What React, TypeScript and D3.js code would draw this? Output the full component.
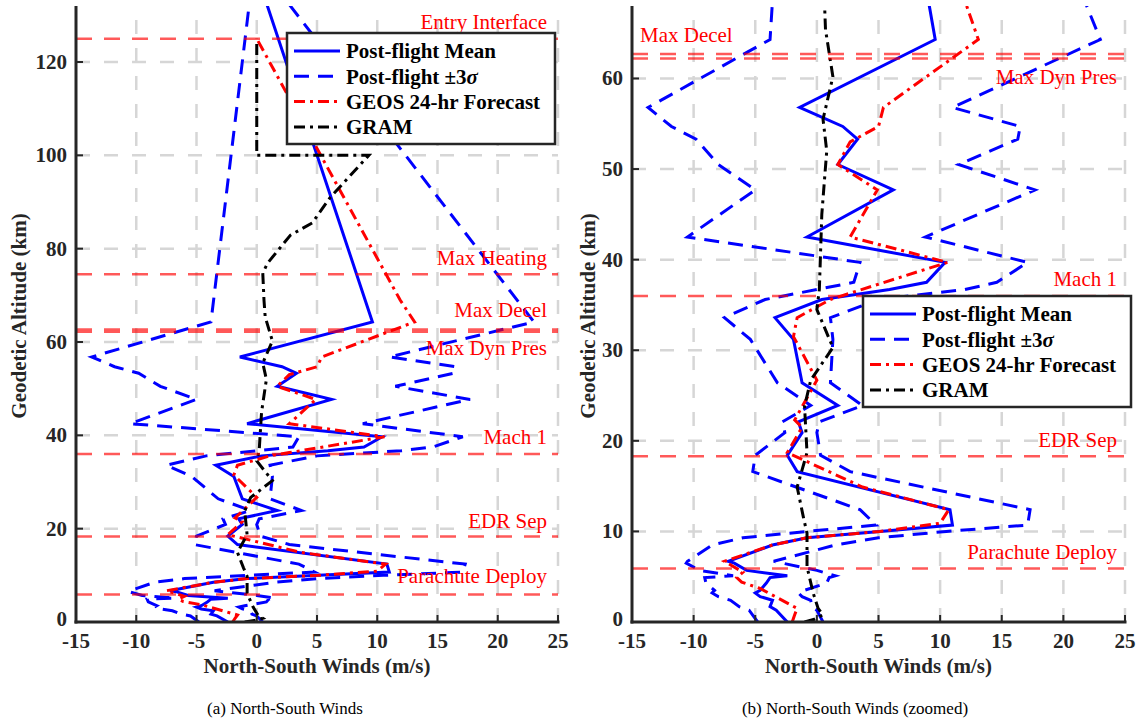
import React from "react";
import * as d3 from "d3";

// post-flight profile: altitude (km) and N-S wind (m/s)
const meanAlt = [0, 1.3, 1.7, 2.4, 2.8, 3.2, 3.5, 4.3, 4.9, 5.1, 5.7, 6.5, 6.7, 8.5, 9.3, 10.0, 10.7, 12.4, 16.6, 18.4, 20.9, 22.1, 23.9, 26.4, 31.2, 33.6, 35.6, 36.7, 37.5, 39.7, 42.5, 47.7, 50.5, 53.3, 54.7, 56.8, 64.3, 135];
const meanWind = [-2.4, -3.3, -3.8, -3.6, -4.6, -5.0, -4.6, -4.1, -3.8, -2.4, -5.7, -6.7, -7.2, -3.6, -0.8, 5.1, 11.0, 10.8, -1.6, -2.4, -1.2, -1.5, 1.7, -1.2, -1.9, -3.4, 0.4, 5.9, 8.9, 10.4, -0.8, 6.2, 1.7, 3.3, 2.1, -1.4, 9.6, 0.5];
const sigmaHigh = [0.5, 0.0, -0.4, -0.5, -1.2, -1.5, -1.0, 0.8, 1.0, 1.5, 0.0, -2.8, -3.5, 1.5, 5.0, 10.5, 17.1, 17.3, 2.7, 0.3, 0.0, 0.2, 3.7, 1.1, 1.3, 1.1, 5.0, 12.0, 14.6, 17.1, 8.8, 17.7, 11.5, 16.3, 16.5, 11.0, 23.0, 1.9];
const sigmaLow = [-4.8, -5.5, -6.3, -7.0, -8.0, -8.5, -8.3, -9.0, -9.1, -6.8, -9.5, -10.6, -10.5, -8.5, -6.0, -0.8, 4.8, 3.5, -5.2, -5.0, -2.6, -2.8, -0.5, -3.2, -5.4, -7.5, -4.2, 0.0, 3.0, 3.5, -10.5, -5.0, -8.0, -9.8, -11.8, -13.7, -3.8, -0.5];

const geosAlt = [0, 0.8, 1.5, 3.7, 4.4, 4.9, 5.5, 6.7, 8.5, 9.3, 10.0, 10.9, 12.4, 14.9, 18.7, 21.5, 22.3, 26.7, 31.5, 33.6, 35.6, 36.3, 39.7, 42.5, 47.7, 50.5, 53.0, 54.7, 56.8, 64.3, 69, 125];
const geosWind = [-2.0, -1.8, -1.6, -4.6, -6.1, -6.5, -6.0, -7.5, -3.6, -0.8, 5.1, 10.0, 10.7, 3.7, -2.4, -1.2, -1.8, 0.0, -1.9, -1.6, 1.1, 2.7, 10.6, 2.7, 4.9, 1.7, 2.7, 5.0, 5.4, 13.1, 11.9, 0.0];

const gramAlt = [0, 0.3, 0.8, 1.5, 3.2, 6.1, 9.8, 11.6, 14.9, 18.7, 23.8, 26.7, 30.3, 34.5, 36.7, 45, 52, 55.5, 60.2, 65.4, 69, 74.8, 76.9, 80.4, 82.9, 85.5, 91, 100, 100, 125];
const gramWind = [-1.0, -0.2, 0.5, 0.1, -0.3, -0.8, -0.8, -1.1, -1.6, -0.8, -1.0, -0.5, 1.3, 0.0, 0.2, 0.4, 0.8, 0.5, 1.3, 0.7, 0.6, 0.5, 0.9, 2.0, 2.8, 4.6, 6.1, 9.3, 0.0, 0.0];

const eventNames = ["Entry Interface", "Max Heating", "Max Decel", "Max Dyn Pres", "Mach 1", "EDR Sep", "Parachute Deploy"];
const eventAlt = [125, 74.5, 62.7, 62.2, 36.0, 18.3, 5.9];

const xTicks = [-15, -10, -5, 0, 5, 10, 15, 20, 25];
const legendNames = ["Post-flight Mean", "Post-flight \u00b13", "GEOS 24-hr Forecast", "GRAM"];

const serif = '"Liberation Serif", "Times New Roman", Times, "DejaVu Serif", serif';
const axisColor = "#262626";
const blue = "#0000ff";
const red = "#ff0000";
const dashSigma = "15,9";
const dashDot = "11,5,3,5";

const styles = [
    { stroke: blue, dash: undefined },
    { stroke: blue, dash: dashSigma },
    { stroke: red, dash: dashDot },
    { stroke: "#000", dash: dashDot },
];

const Panel = (props: any) => {
    const { id, x0, x1, y0, y1, yMax, yTicks, labels, legend, caption, capX, yLabelX } = props;
    const x = d3.scaleLinear([-15, 25], [x0, x1]);
    const y = d3.scaleLinear([0, yMax], [y1, y0]);
    const line = d3
        .line<[number, number]>()
        .x((d) => x(d[0]))
        .y((d) => y(d[1]));

    const series = [
        { d: line(d3.zip(meanWind, meanAlt) as any), s: styles[0] },
        { d: line(d3.zip(sigmaHigh, meanAlt) as any), s: styles[1] },
        { d: line(d3.zip(sigmaLow, meanAlt) as any), s: styles[1] },
        { d: line(d3.zip(geosWind, geosAlt) as any), s: styles[2] },
        { d: line(d3.zip(gramWind, gramAlt) as any), s: styles[3] },
    ];

    return (
        <g>
            <defs>
                <clipPath id={`clip-${id}`}>
                    <rect x={x0} y={y0} width={x1 - x0} height={y1 - y0} />
                </clipPath>
            </defs>
            {/* grid */}
            <g stroke="#d6d6d6" strokeWidth={2.5} strokeDasharray="14,14">
                {xTicks.slice(1).map((t) => (
                    <line key={t} x1={x(t)} x2={x(t)} y1={y1} y2={y0} />
                ))}
                {yTicks.slice(1).map((t: number) => (
                    <line key={t} x1={x0} x2={x1} y1={y(t)} y2={y(t)} />
                ))}
            </g>
            <g clipPath={`url(#clip-${id})`} fill="none" strokeWidth={3}>
                {series.map((l, i) => (
                    <path key={i} d={l.d || ""} stroke={l.s.stroke} strokeDasharray={l.s.dash} />
                ))}
                {eventAlt.map((a, i) =>
                    a <= yMax ? (
                        <line key={i} x1={x0} x2={x1} y1={y(a)} y2={y(a)} stroke={red} strokeOpacity={0.65} strokeWidth={2.5} strokeDasharray="16,12" />
                    ) : null
                )}
            </g>
            {/* event labels */}
            {eventNames.map((n, i) => {
                const lb = labels[i];
                if (!lb) return null;
                return (
                    <text
                        key={n}
                        x={lb.anchor === "start" ? x0 + 8 : x1 - lb.inset}
                        y={y(eventAlt[i]) + lb.dy}
                        textAnchor={lb.anchor}
                        fontSize={21}
                        fill={red}
                    >
                        {n}
                    </text>
                );
            })}
            {/* axes */}
            <g stroke={axisColor} strokeWidth={3}>
                <line x1={x0} x2={x0} y1={y0} y2={y1 + 1.5} />
                <line x1={x0 - 1.5} x2={x1 + 1.5} y1={y1} y2={y1} />
                {xTicks.map((t) => (
                    <line key={t} x1={x(t)} x2={x(t)} y1={y1} y2={y1 - 7} strokeWidth={2} />
                ))}
                {yTicks.map((t: number) => (
                    <line key={t} x1={x0} x2={x0 + 7} y1={y(t)} y2={y(t)} strokeWidth={2} />
                ))}
            </g>
            <g fontWeight="bold" fontSize={21} fill={axisColor}>
                {xTicks.map((t) => (
                    <text key={t} x={x(t)} y={y1 + 26} textAnchor="middle">
                        {t}
                    </text>
                ))}
                {yTicks.map((t: number) => (
                    <text key={t} x={x0 - 9} y={y(t) - (t === 0 ? 3 : 0)} dy="0.33em" textAnchor="end">
                        {t}
                    </text>
                ))}
                <text x={(x0 + x1) / 2} y={y1 + 51} textAnchor="middle">
                    North-South Winds (m/s)
                </text>
                <text transform={`translate(${yLabelX},${(y0 + y1) / 2 + 2}) rotate(-90)`} textAnchor="middle">
                    Geodetic Altitude (km)
                </text>
            </g>
            {/* legend */}
            <g transform={`translate(${legend.x},${legend.y})`}>
                <rect x={0} y={0} width={268} height={111} fill="#fff" stroke={axisColor} strokeWidth={2.5} />
                {legendNames.map((n, i) => (
                    <g key={n} transform={`translate(0,${18 + i * 25.3})`}>
                        <line x1={7} x2={53} y1={0} y2={0} stroke={styles[i].stroke} strokeWidth={3} strokeDasharray={styles[i].dash} />
                        <text x={59} y={0} dy="0.35em" fontWeight="bold" fontSize={21} fill="#000">
                            {n}
                            {i === 1 ? <tspan fontStyle="italic">{"\u03c3"}</tspan> : null}
                        </text>
                    </g>
                ))}
            </g>
            <text x={capX} y={714} textAnchor="middle" fontSize={17} fill="#000">
                {caption}
            </text>
        </g>
    );
};

const leftLabels = [
    { anchor: "end", inset: 11, dy: -10 },
    { anchor: "end", inset: 11, dy: -9 },
    { anchor: "end", inset: 11, dy: -12 },
    { anchor: "end", inset: 11, dy: 23 },
    { anchor: "end", inset: 11, dy: -10 },
    { anchor: "end", inset: 11, dy: -9 },
    { anchor: "end", inset: 11, dy: -11 },
];
const rightLabels = [
    null,
    null,
    { anchor: "start", inset: 0, dy: -12 },
    { anchor: "end", inset: 8, dy: 25 },
    { anchor: "end", inset: 8, dy: -10 },
    { anchor: "end", inset: 8, dy: -9 },
    { anchor: "end", inset: 8, dy: -10 },
];

export default function App() {
    return (
        <svg
            width={1141}
            height={722}
            style={{ position: "absolute", left: 0, top: 0, background: "#fff", fontFamily: serif }}
        >
            <Panel
                id="a"
                x0={76}
                x1={558}
                y0={6}
                y1={622}
                yMax={132}
                yTicks={[0, 20, 40, 60, 80, 100, 120]}
                labels={leftLabels}
                legend={{ x: 287, y: 33 }}
                caption="(a)  North-South Winds"
                capX={285}
                yLabelX={26}
            />
            <Panel
                id="b"
                x0={632}
                x1={1125}
                y0={6}
                y1={622}
                yMax={68}
                yTicks={[0, 10, 20, 30, 40, 50, 60]}
                labels={rightLabels}
                legend={{ x: 863, y: 296 }}
                caption="(b)  North-South Winds (zoomed)"
                capX={855}
                yLabelX={595}
            />
        </svg>
    );
}
